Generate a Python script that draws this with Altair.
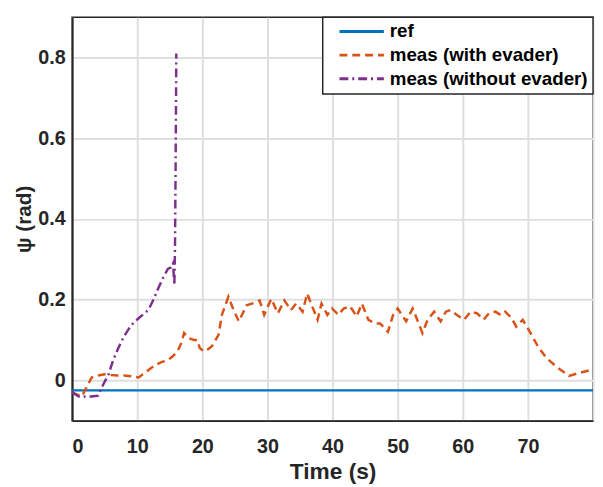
import altair as alt
import pandas as pd

# reference line
ref_t = [0, 80]
ref_v = [-0.025, -0.025]

# measurement without evader
wo_t = [0, 0.5, 1, 1.5, 2, 3, 4, 4.1, 4.8, 5.6, 6.3, 7.1, 8, 9.1, 10.3, 11.7, 12.5,
        13.2, 14, 14.7, 15.2, 15.5, 15.7, 15.8, 15.9, 16.0]
wo_v = [-0.03, -0.035, -0.04, -0.042, -0.04, -0.04, -0.038, -0.033, -0.01, 0.015, 0.05,
        0.08, 0.11, 0.137, 0.155, 0.174, 0.2, 0.227, 0.255, 0.276, 0.28, 0.29, 0.235,
        0.33, 0.55, 0.81]

# measurement with evader
w_t = [0, 0.7, 1.5, 2.3, 3, 4, 5, 6, 7, 8, 9, 10.2, 11.3, 12.7, 13.7, 14.7, 15.5, 16.2,
       16.7, 17.2, 17.8, 18.7, 19.2, 19.6, 20.2, 20.5, 21.5, 22.5, 23, 24, 24.8, 25.6,
       26.8, 27.6, 28.8, 29.5, 30.6, 31.6, 32.6, 33.6, 34.4, 35.4, 36.1, 36.9, 37.7,
       38.3, 39.2, 39.9, 40.9, 41.7, 42.7, 43.7, 44.5, 45.5, 46.5, 47.3, 48.5, 49.3,
       50, 51.3, 52.3, 53.1, 53.8, 54.6, 55.6, 56.6, 57.4, 58.1, 59.1, 60.2, 61.2,
       62.2, 63.2, 64, 65, 65.8, 66.5, 67.5, 68.2, 69.2, 70.3, 71.5, 72.8, 74.5, 76.3,
       78.3, 80]
w_v = [-0.03, -0.035, -0.04, -0.015, 0.007, 0.012, 0.015, 0.013, 0.012, 0.012, 0.01,
       0.007, 0.02, 0.037, 0.045, 0.05, 0.06, 0.072, 0.09, 0.117, 0.105, 0.1, 0.1, 0.08,
       0.072, 0.072, 0.085, 0.113, 0.162, 0.207, 0.174, 0.146, 0.186, 0.19, 0.198,
       0.162, 0.202, 0.166, 0.198, 0.174, 0.19, 0.17, 0.215, 0.182, 0.15, 0.19, 0.162,
       0.178, 0.162, 0.178, 0.183, 0.158, 0.19, 0.15, 0.141, 0.141, 0.12, 0.162, 0.178,
       0.146, 0.178, 0.146, 0.117, 0.15, 0.17, 0.146, 0.17, 0.174, 0.162, 0.15, 0.17,
       0.166, 0.15, 0.166, 0.17, 0.162, 0.17, 0.154, 0.133, 0.15, 0.12, 0.085, 0.056,
       0.032, 0.011, 0.02, 0.027]

series = ["ref", "meas (with evader)", "meas (without evader)"]
colors = ["#0072BD", "#D95319", "#7E2F8E"]
dashes = [[1, 0], [8, 5], [9, 4, 2, 4]]

rows = []
for name, ts, vs in [(series[0], ref_t, ref_v), (series[1], w_t, w_v), (series[2], wo_t, wo_v)]:
    for i, (t, v) in enumerate(zip(ts, vs)):
        rows.append({"t": t, "v": v, "s": name, "i": i})
df = pd.DataFrame(rows)

FONT = "Liberation Sans"

chart = alt.Chart(df).mark_line(strokeWidth=2.5, clip=True).encode(
    x=alt.X("t:Q", scale=alt.Scale(domain=[0, 80], nice=False, zero=False),
            axis=alt.Axis(title="Time (s)", values=[0, 10, 20, 30, 40, 50, 60, 70, 80],
                          labelExpr="datum.value == 80 ? '' : datum.label")),
    y=alt.Y("v:Q", scale=alt.Scale(domain=[-0.1, 0.9], nice=False, zero=False),
            axis=alt.Axis(title="ψ (rad)", values=[-0.1, 0, 0.2, 0.4, 0.6, 0.8],
                          labelExpr="datum.value == 0 ? '0' : (datum.value < 0 ? '' : format(datum.value, '.1f'))")),
    color=alt.Color("s:N", scale=alt.Scale(domain=series, range=colors),
                    legend=alt.Legend(title=None)),
    strokeDash=alt.StrokeDash("s:N", scale=alt.Scale(domain=series, range=dashes),
                              legend=alt.Legend(title=None)),
    order="i:Q",
).properties(
    width=528, height=409,
    autosize=alt.AutoSizeParams(type="none"),
    padding={"left": 65, "top": 6, "right": 2, "bottom": 64},
).configure_view(
    stroke="#262626", strokeWidth=1.5
).configure_axis(
    labelFont=FONT, titleFont=FONT, labelFontSize=20, titleFontSize=23,
    labelFontWeight="bold", titleFontWeight="bold", labelColor="#262626",
    titleColor="#262626", gridColor="#dfdfdf", gridWidth=2, gridOpacity=1,
    domainColor="#262626", domainWidth=2, tickColor="#262626", tickSize=0,
).configure_axisX(labelPadding=16, titlePadding=5).configure_axisY(
    labelPadding=7, titlePadding=3, titleFontSize=21
).configure_legend(
    orient="top-right", offset=0, fillColor="white", strokeColor="#262626",
    strokeWidth=1.5, padding=5, labelFont=FONT, labelFontSize=19,
    labelFontWeight="bold", labelColor="black", symbolType="M-3,0H3",
    symbolSize=225, symbolStrokeWidth=3, rowPadding=4, labelOffset=19,
    labelLimit=400, symbolOffset=25,
)

chart.save("out.html", embed_options={"renderer": "svg", "actions": False})
